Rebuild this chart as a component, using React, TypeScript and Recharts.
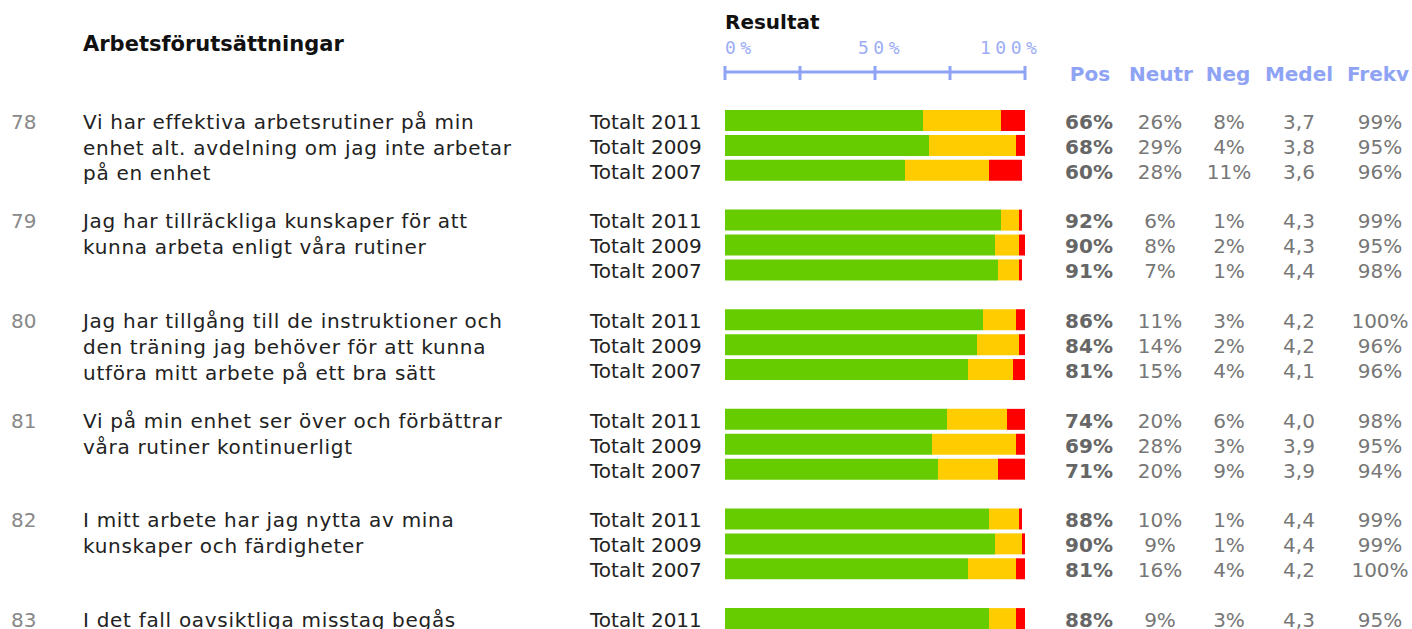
import { BarChart, Bar, XAxis, YAxis } from "recharts"

// Survey block "Arbetsförutsättningar": share positive / neutral / negative per year
const questionNumbers = [78, 79, 80, 81, 82, 83]
const questionTexts = [
  ["Vi har effektiva arbetsrutiner på min", "enhet alt. avdelning om jag inte arbetar", "på en enhet"],
  ["Jag har tillräckliga kunskaper för att", "kunna arbeta enligt våra rutiner"],
  ["Jag har tillgång till de instruktioner och", "den träning jag behöver för att kunna", "utföra mitt arbete på ett bra sätt"],
  ["Vi på min enhet ser över och förbättrar", "våra rutiner kontinuerligt"],
  ["I mitt arbete har jag nytta av mina", "kunskaper och färdigheter"],
  ["I det fall oavsiktliga misstag begås"],
]
const periods = ["Totalt 2011", "Totalt 2009", "Totalt 2007"]

const positive = [[66, 68, 60], [92, 90, 91], [86, 84, 81], [74, 69, 71], [88, 90, 81], [88]]
const neutral = [[26, 29, 28], [6, 8, 7], [11, 14, 15], [20, 28, 20], [10, 9, 16], [9]]
const negative = [[8, 4, 11], [1, 2, 1], [3, 2, 4], [6, 3, 9], [1, 1, 4], [3]]
const average = [[3.7, 3.8, 3.6], [4.3, 4.3, 4.4], [4.2, 4.2, 4.1], [4.0, 3.9, 3.9], [4.4, 4.4, 4.2], [4.3]]
const frequency = [[99, 95, 96], [99, 95, 98], [100, 96, 96], [98, 95, 94], [99, 99, 100], [95]]

const scaleTicks = [0, 25, 50, 75, 100]
const scaleLabels: Record<number, string> = { 0: "0%", 50: "50%", 100: "100%" }
const columnHeaders = ["Pos", "Neutr", "Neg", "Medel", "Frekv"]

type Row = {
  key: string
  group: number
  sub: number
  period?: string
  pos?: number
  neu?: number
  neg?: number
  medel?: number
  frekv?: number
}

const rows: Row[] = []
questionNumbers.forEach((q, g) => {
  positive[g].forEach((p, i) => {
    rows.push({
      key: `${q}-${i}`,
      group: g,
      sub: i,
      period: periods[i],
      pos: p,
      neu: neutral[g][i],
      neg: negative[g][i],
      medel: average[g][i],
      frekv: frequency[g][i],
    })
  })
  if (g < questionNumbers.length - 1) rows.push({ key: `${q}-gap`, group: g, sub: -1 })
})
const rowByKey = new Map(rows.map((r) => [r.key, r]))

const FONT = "'DejaVu Sans', Verdana, sans-serif"
const BLUE = "#8fa3f5"
const GREY = "#777"

const LEFT_W = 725
const RIGHT_W = 387
const AXIS_TOP = 72
const FIRST_ROW_PAD = 36

// Question number, question text and period label on the left
function LeftTick(props: any) {
  const { x, y, payload } = props
  const row = rowByKey.get(payload.value)
  if (!row || row.sub < 0) return null
  const lines = questionTexts[row.group]
  return (
    <g fontFamily={FONT} fontSize={20}>
      {row.sub === 0 && (
        <>
          <text x={x - 714} y={y} dy="0.42em" fill="#888">
            {questionNumbers[row.group]}
          </text>
          <text x={x - 642} y={y} fill="#222" letterSpacing={0.7}>
            {lines.map((l, i) => (
              <tspan key={i} x={x - 642} dy={i === 0 ? "0.42em" : 25.8}>
                {l}
              </tspan>
            ))}
          </text>
        </>
      )}
      <text x={x - 135} y={y} dy="0.42em" fill="#222">
        {row.period}
      </text>
    </g>
  )
}

// Pos / Neutr / Neg / Medel / Frekv columns on the right
function RightTick(props: any) {
  const { x, y, payload } = props
  const row = rowByKey.get(payload.value)
  if (!row || row.sub < 0) return null
  const cells = [
    { dx: 64, text: `${row.pos}%`, bold: true },
    { dx: 135, text: `${row.neu}%` },
    { dx: 204, text: `${row.neg}%` },
    { dx: 274, text: (row.medel as number).toFixed(1).replace(".", ",") },
    { dx: 355, text: `${row.frekv}%` },
  ]
  return (
    <g fontFamily={FONT} fontSize={20}>
      {cells.map((c, i) => (
        <text
          key={i}
          x={x + c.dx}
          y={y}
          dy="0.42em"
          textAnchor="middle"
          fill={c.bold ? "#666" : GREY}
          fontWeight={c.bold ? "bold" : "normal"}
        >
          {c.text}
        </text>
      ))}
    </g>
  )
}

// Percentage scale drawn above the bars
function ScaleTick(props: any) {
  const { x, y, payload } = props
  const v = payload.value as number
  const label = scaleLabels[v]
  const lx = v === 0 ? x : v === 100 ? x - 45 : x - 17
  return (
    <g>
      <line x1={x} x2={x} y1={y - 6} y2={y + 8} stroke={BLUE} strokeWidth={3} />
      {label && (
        <text
          x={lx}
          y={y - 18}
          fontFamily="'DejaVu Sans Mono', monospace"
          fontSize={18}
          letterSpacing={4.5}
          fill="#9cadf5"
        >
          {label}
        </text>
      )}
    </g>
  )
}

const headerX = [1090, 1161, 1228, 1299, 1378]

export default function App() {
  return (
    <div
      style={{
        position: "fixed",
        left: 0,
        top: 0,
        width: 1412,
        height: 629,
        overflow: "hidden",
        background: "#fff",
      }}
    >
      <div
        style={{
          position: "absolute",
          left: 83,
          top: 32,
          fontFamily: FONT,
          fontWeight: "bold",
          fontSize: 21,
          color: "#111",
        }}
      >
        Arbetsförutsättningar
      </div>
      <div
        style={{
          position: "absolute",
          left: 725,
          top: 10,
          fontFamily: FONT,
          fontWeight: "bold",
          fontSize: 20,
          color: "#111",
        }}
      >
        Resultat
      </div>
      {columnHeaders.map((h, i) => (
        <div
          key={h}
          style={{
            position: "absolute",
            left: headerX[i] - 50,
            width: 100,
            top: 62,
            textAlign: "center",
            fontFamily: FONT,
            fontWeight: "bold",
            fontSize: 20,
            color: BLUE,
          }}
        >
          {h}
        </div>
      ))}
      <BarChart
        width={1412}
        height={631}
        data={rows}
        layout="vertical"
        margin={{ top: 0, right: 0, bottom: 0, left: 0 }}
        style={{ position: "absolute", left: 0, top: 0 }}
      >
        <XAxis
          type="number"
          orientation="top"
          domain={[0, 100]}
          allowDataOverflow
          ticks={scaleTicks}
          height={AXIS_TOP}
          axisLine={{ stroke: BLUE, strokeWidth: 3 }}
          tickLine={false}
          tickSize={0}
          tickMargin={0}
          tick={<ScaleTick />}
        />
        <YAxis
          yAxisId="left"
          type="category"
          dataKey="key"
          width={LEFT_W}
          padding={{ top: FIRST_ROW_PAD, bottom: 0 }}
          interval={0}
          axisLine={false}
          tickLine={false}
          tickSize={0}
          tickMargin={0}
          tick={<LeftTick />}
        />
        <YAxis
          yAxisId="right"
          orientation="right"
          type="category"
          dataKey="key"
          width={RIGHT_W}
          padding={{ top: FIRST_ROW_PAD, bottom: 0 }}
          interval={0}
          axisLine={false}
          tickLine={false}
          tickSize={0}
          tickMargin={0}
          tick={<RightTick />}
        />
        <Bar yAxisId="left" dataKey="pos" stackId="a" fill="#66cc00" barSize={21} isAnimationActive={false} />
        <Bar yAxisId="left" dataKey="neu" stackId="a" fill="#ffcc00" barSize={21} isAnimationActive={false} />
        <Bar yAxisId="left" dataKey="neg" stackId="a" fill="#ff0000" barSize={21} isAnimationActive={false} />
      </BarChart>
    </div>
  )
}
